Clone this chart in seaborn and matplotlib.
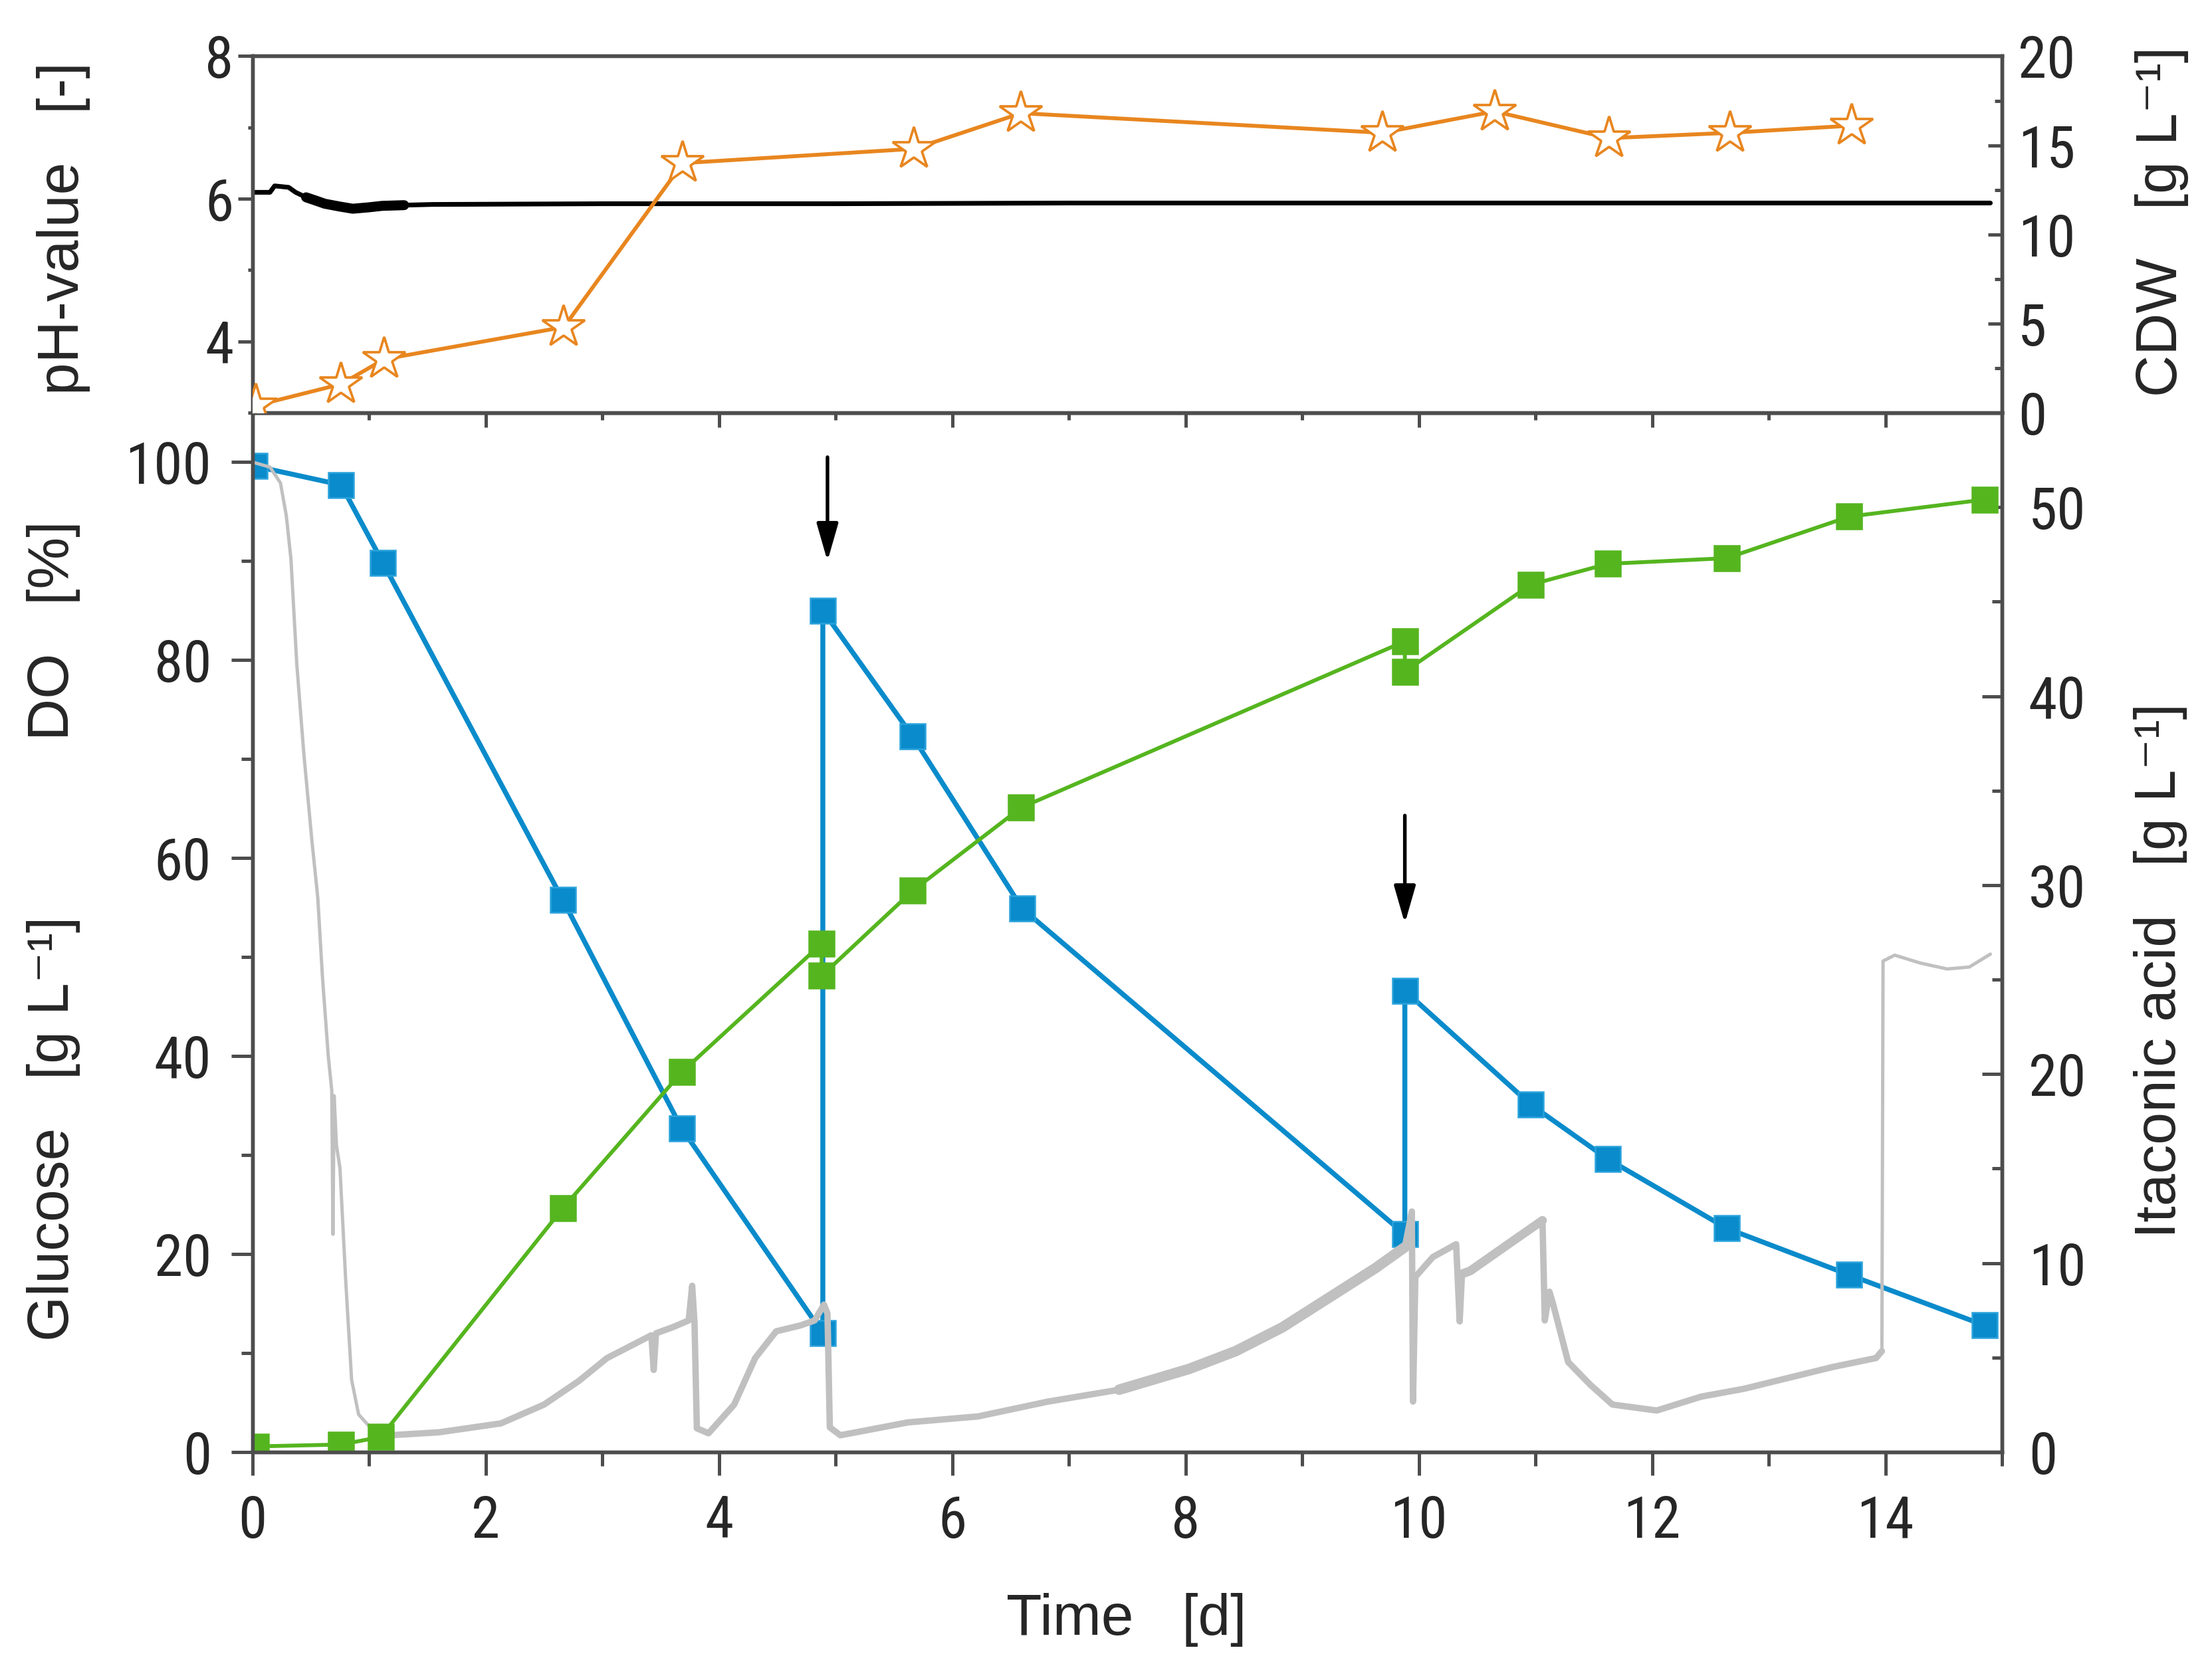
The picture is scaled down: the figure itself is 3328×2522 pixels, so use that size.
import matplotlib
matplotlib.use("Agg")
import matplotlib.pyplot as plt
import seaborn as sns
from matplotlib import font_manager
from matplotlib.ticker import MultipleLocator

# ---- values ----
# offline samples (glucose, left axis of bottom panel)
glc_t = [0.02, 0.76, 1.12, 2.66, 3.68, 4.89, 4.89, 5.66, 6.60, 9.88, 9.88,
         10.96, 11.62, 12.64, 13.69, 14.85]
glucose = [99.6, 97.7, 89.8, 55.8, 32.7, 12.0, 85.0, 72.3, 54.9, 22.0, 46.6,
           35.1, 29.6, 22.6, 17.9, 12.8]

# itaconic acid (right axis of bottom panel)
ia_t = [0.03, 0.76, 1.10, 2.66, 3.68, 4.88, 4.88, 5.66, 6.59, 9.88, 9.88,
        10.96, 11.62, 12.64, 13.69, 14.85]
itaconic = [0.3, 0.4, 0.8, 12.9, 20.1, 26.9, 25.2, 29.7, 34.1, 42.9, 41.3,
            45.9, 47.0, 47.3, 49.5, 50.4]

# cell dry weight (right axis of top panel)
cdw_t = [0.03, 0.76, 1.13, 2.67, 3.69, 5.67, 6.59, 9.69, 10.65, 11.63, 12.67, 13.71]
cdw = [0.4, 1.6, 3.0, 4.8, 14.0, 14.8, 16.8, 15.7, 16.9, 15.4, 15.7, 16.1]

# online DO signal (left axis of bottom panel)
do_t = [0.00, 0.15, 0.24, 0.29, 0.33, 0.38, 0.44, 0.51, 0.56, 0.60, 0.65, 0.68,
        0.69, 0.70, 0.72, 0.75, 0.80, 0.85, 0.91, 1.04, 1.18, 1.60, 2.13, 2.50,
        2.80, 3.04, 3.42, 3.44, 3.46, 3.60, 3.74, 3.77, 3.79, 3.81, 3.91, 4.13,
        4.31, 4.49, 4.70, 4.82, 4.90, 4.93, 4.95, 5.04, 5.22, 5.62, 6.22, 6.82,
        7.43, 8.03, 8.43, 8.83, 9.23, 9.63, 9.88, 9.94, 9.95, 9.97, 10.12, 10.32,
        10.35, 10.37, 10.44, 10.84, 11.06, 11.08, 11.12, 11.15, 11.28, 11.47,
        11.66, 12.04, 12.42, 12.79, 13.17, 13.55, 13.92, 13.97, 13.98, 14.08,
        14.30, 14.53, 14.72, 14.90]
do_pct = [100.0, 99.5, 97.9, 94.6, 90.2, 79.6, 70.6, 61.7, 56.0, 48.0, 40.0, 36.5,
          22.0, 36.0, 31.0, 28.7, 17.2, 7.3, 3.8, 2.1, 1.7, 2.0, 2.9, 4.8,
          7.2, 9.5, 11.8, 8.3, 12.0, 12.6, 13.3, 16.8, 13.0, 2.4, 1.9, 4.8,
          9.5, 12.2, 12.8, 13.3, 14.9, 14.0, 2.5, 1.7, 2.1, 3.0, 3.6, 5.1,
          6.3, 8.4, 10.2, 12.6, 15.6, 18.6, 20.7, 24.3, 5.1, 17.7, 19.7, 21.0,
          13.2, 18.0, 18.3, 21.6, 23.4, 13.3, 16.2, 15.0, 9.1, 6.8,
          4.8, 4.2, 5.6, 6.4, 7.5, 8.6, 9.5, 10.2, 49.6, 50.2,
          49.4, 48.8, 49.0, 50.3]

# online pH signal (left axis of top panel)
ph_t = [0.00, 0.15, 0.19, 0.31, 0.37, 0.46, 0.55, 0.62, 0.75, 0.86, 1.00, 1.11,
        1.30, 1.54, 3.0, 5.0, 7.0, 9.0, 11.0, 13.0, 14.9]
ph = [6.09, 6.09, 6.18, 6.16, 6.09, 6.02, 5.97, 5.93, 5.89, 5.86, 5.88, 5.90,
      5.91, 5.92, 5.93, 5.93, 5.94, 5.94, 5.94, 5.94, 5.94]

# glucose feed pulses (arrows): time, arrow top, arrow tip (DO axis units)
feed_t = [4.93, 9.88]
feed_top = [100.5, 64.3]
feed_tip = [90.0, 53.4]

BLUE = "#0a8bcb"
BLUE_EDGE = "#2aa3dc"
GREEN = "#55b51f"
ORANGE = "#e8861f"
GRAY = "#c0c0c0"
SPINE = "#4d4d4d"

sns.set_style("ticks")
avail = {f.name for f in font_manager.fontManager.ttflist}
LABEL_FONT = "Liberation Sans"
TICK_FONT, TICK_SIZE = LABEL_FONT, 19
for name, size in [("Liberation Sans Narrow", 21.5), ("Arial Narrow", 21.5),
                   ("Roboto Condensed", 21)]:
    if name in avail:
        TICK_FONT, TICK_SIZE = name, size
        break
plt.rcParams["font.family"] = [LABEL_FONT, "DejaVu Sans"]

fig = plt.figure(figsize=(3329 / 300, 2522 / 300), dpi=300)
left, right = 0.1141, 0.9048
ax_do = fig.add_axes([left, 0.1336, right - left, 0.7538 - 0.1336])
ax_ia = ax_do.twinx()
ax_ph = fig.add_axes([left, 0.7538, right - left, 0.9665 - 0.7538])
ax_cdw = ax_ph.twinx()

# ---- bottom panel ----
sns.lineplot(x=do_t, y=do_pct, ax=ax_do, color=GRAY, lw=1.2,
             estimator=None, sort=False, zorder=3)
# noisy stretches of the sensor trace show up as a wider band
for t0, t1, w in [(1.04, 13.97, 2.3), (7.4, 9.88, 3.8), (10.37, 11.06, 3.2)]:
    seg = [(t, v) for t, v in zip(do_t, do_pct) if t0 <= t <= t1]
    ax_do.plot([s[0] for s in seg], [s[1] for s in seg], color=GRAY, lw=w,
               solid_joinstyle="round", solid_capstyle="round", zorder=3)

sns.lineplot(x=glc_t, y=glucose, ax=ax_do, color=BLUE, lw=1.8, marker="s",
             markersize=9, markeredgecolor=BLUE_EDGE, markeredgewidth=0.6,
             estimator=None, sort=False, zorder=2)

for t, y0, y1 in zip(feed_t, feed_top, feed_tip):
    ax_do.annotate("", xy=(t, y1), xytext=(t, y0),
                   arrowprops=dict(arrowstyle="-|>,head_length=1.15,head_width=0.33",
                                   color="black", lw=1.3, shrinkA=0, shrinkB=0),
                   zorder=5)

sns.lineplot(x=ia_t, y=itaconic, ax=ax_ia, color=GREEN, lw=1.4, marker="s",
             markersize=9, markeredgecolor=GREEN, markeredgewidth=0.6,
             estimator=None, sort=False, zorder=2)

ax_do.set_xlim(0, 15)
ax_do.set_ylim(0, 105)
ax_ia.set_ylim(0, 55)
ax_do.xaxis.set_major_locator(MultipleLocator(2))
ax_do.xaxis.set_minor_locator(MultipleLocator(1))
ax_do.yaxis.set_major_locator(MultipleLocator(20))
ax_do.yaxis.set_minor_locator(MultipleLocator(10))
ax_ia.yaxis.set_major_locator(MultipleLocator(10))
ax_ia.yaxis.set_minor_locator(MultipleLocator(5))

ax_do.tick_params(axis="x", which="both", direction="out", top=False,
                  color=SPINE, width=1.2, pad=6.5, labelsize=TICK_SIZE,
                  labelfontfamily=TICK_FONT)
ax_do.tick_params(axis="x", which="major", length=8.5)
ax_do.tick_params(axis="x", which="minor", length=5)
ax_do.tick_params(axis="y", which="both", direction="out", right=False,
                  color=SPINE, width=1.2, pad=7, labelsize=TICK_SIZE,
                  labelfontfamily=TICK_FONT)
ax_do.tick_params(axis="y", which="major", length=7.8)
ax_do.tick_params(axis="y", which="minor", length=4)
ax_ia.tick_params(axis="y", which="both", direction="in", color=SPINE, width=1.2,
                  pad=9.5, labelsize=TICK_SIZE, labelfontfamily=TICK_FONT)
ax_ia.tick_params(axis="y", which="major", length=7.2)
ax_ia.tick_params(axis="y", which="minor", length=3.6)

# ---- top panel ----
sns.lineplot(x=ph_t, y=ph, ax=ax_ph, color="black", lw=1.7,
             estimator=None, sort=False, zorder=2)
seg = [(t, v) for t, v in zip(ph_t, ph) if 0.40 <= t <= 1.30]
ax_ph.plot([s[0] for s in seg], [s[1] for s in seg], color="black", lw=3.6,
           solid_capstyle="round", zorder=2)

sns.lineplot(x=cdw_t, y=cdw, ax=ax_cdw, color=ORANGE, lw=1.4, marker="*",
             markersize=16, markerfacecolor="white", markeredgecolor=ORANGE,
             markeredgewidth=0.9, estimator=None, sort=False, zorder=3)

ax_ph.set_xlim(0, 15)
ax_ph.set_ylim(3, 8)
ax_cdw.set_ylim(0, 20)
ax_ph.xaxis.set_major_locator(MultipleLocator(2))
ax_ph.xaxis.set_minor_locator(MultipleLocator(1))
ax_ph.yaxis.set_major_locator(MultipleLocator(2))
ax_ph.yaxis.set_minor_locator(MultipleLocator(1))
ax_cdw.yaxis.set_major_locator(MultipleLocator(5))
ax_cdw.yaxis.set_minor_locator(MultipleLocator(2.5))

ax_ph.tick_params(axis="x", which="both", direction="out", top=False,
                  labelbottom=False, color=SPINE, width=1.2)
ax_ph.tick_params(axis="x", which="major", length=5.3)
ax_ph.tick_params(axis="x", which="minor", length=2.6)
ax_ph.tick_params(axis="y", which="both", direction="out", right=False,
                  color=SPINE, width=1.2, pad=1.5, labelsize=TICK_SIZE,
                  labelfontfamily=TICK_FONT)
ax_ph.tick_params(axis="y", which="major", length=5.3)
ax_ph.tick_params(axis="y", which="minor", length=1.8)
ax_cdw.tick_params(axis="y", which="both", direction="in", color=SPINE, width=1.2,
                   pad=5.8, labelsize=TICK_SIZE, labelfontfamily=TICK_FONT)
ax_cdw.tick_params(axis="y", which="major", length=5)
ax_cdw.tick_params(axis="y", which="minor", length=2.6)

for a in (ax_do, ax_ia, ax_ph, ax_cdw):
    a.set_xlabel("")
    a.set_ylabel("")
    for sp in a.spines.values():
        sp.set_visible(True)
        sp.set_color(SPINE)
        sp.set_linewidth(1.3)

# ---- axis titles ----
lab = dict(fontsize=21, family=[LABEL_FONT, "DejaVu Sans"], ha="center", va="center")
fig.text(0.0288, 0.8636, "pH-value   [-]", rotation=90, **lab)
fig.text(0.0243, 0.6237, "DO   [%]", rotation=90, **lab)
fig.text(0.0243, 0.3267, "Glucose   [g L\u207b\u00b9]", rotation=90, **lab)
fig.text(0.9770, 0.8676, "CDW   [g L\u207b\u00b9]", rotation=90, **lab)
fig.text(0.9765, 0.4210, "Itaconic acid   [g L\u207b\u00b9]", rotation=90, **lab)
fig.text(0.5090, 0.0337, "Time   [d]", **lab)

fig.savefig("out.png", dpi=300)
plt.close(fig)
